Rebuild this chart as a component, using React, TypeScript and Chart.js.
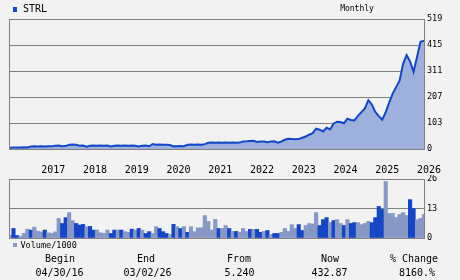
import React, { useEffect, useRef } from "react";
import { Chart, registerables } from "chart.js";

Chart.register(...registerables);

const ticker = "STRL";
const period = "Monthly";
const volumeLegend = "Volume/1000";

// month index 0 = Apr 2016 ... 119 = Mar 2026
const yearLabels = ["2017", "2018", "2019", "2020", "2021", "2022", "2023", "2024", "2025", "2026"];
const yearTickIndex = [9, 21, 33, 45, 57, 69, 81, 93, 105, 117];
const priceTicks = [0, 103, 207, 311, 415, 519];
const volumeTicks = [0, 13, 26];

const prices = [
  5.24, 6, 6.2, 6, 6.5, 6.4, 10, 10.5, 10, 10.5,
  10, 10.8, 10.5, 13, 13.5, 11, 11.5, 17, 17.5, 17,
  13, 13.5, 9.5, 13, 13.5, 13, 13.8, 13, 13.5, 10,
  13, 13.5, 13, 13.8, 13, 13.5, 13, 10, 13, 13.5,
  11, 20, 17, 17.5, 17, 17, 16, 10.5, 11, 11.5,
  11, 17, 17.5, 17, 17.5, 17, 19.5, 25, 25.5, 25,
  25.5, 25, 25.5, 25, 25.5, 25, 25.5, 30, 30.5, 32,
  32.5, 28, 30, 30, 27, 30, 30.5, 25.5, 30, 37,
  41, 40, 39, 39.5, 45, 50, 57, 63, 81, 77,
  70, 85, 78, 101, 109, 108, 103, 121, 116, 114,
  132, 147, 162, 195, 178, 148, 131, 117, 147, 185,
  221, 247, 274, 340, 375, 350, 308, 367, 428, 432.87,
];

const volumes = [
  1.1, 4.2, 1.1, 0.8, 2, 3.9, 3.5, 4.8, 3, 2.7,
  3.5, 2.3, 2, 2.7, 8.6, 6.4, 9, 11.2, 7.7, 6.4,
  5.7, 6, 5, 5.1, 3.5, 3.5, 2.3, 2, 3.5, 2,
  3.5, 3.5, 3.5, 2.8, 2.5, 3.9, 3.5, 4.2, 3.5, 2,
  2.8, 2, 5, 4.2, 2.8, 2, 1.5, 6, 5, 4.2,
  5, 2.5, 5, 2.8, 4.5, 4.5, 9.9, 7.3, 3.5, 8.2,
  4.2, 4.2, 5.5, 4.2, 2.9, 2.9, 2.5, 4.2, 2.9, 3.8,
  3.8, 3.8, 2.5, 2.9, 3.3, 1.6, 2, 2, 2.5, 4.2,
  2.9, 5.9, 4.2, 5.9, 3.3, 5.5, 6.4, 6.2, 11.2, 5.5,
  8.1, 9, 6.8, 7.7, 8.1, 6.4, 5.5, 8.1, 6.4, 6.8,
  6.8, 5.9, 6.4, 7.3, 6.8, 9, 13.9, 12.6, 24.9, 10.8,
  10.8, 9, 10.4, 11.2, 9.9, 16.9, 13, 8.1, 8.7, 10.4,
];

// 1 = down month (dark bar), 0 = up month (light bar)
const volumeDown = [
  0, 1, 1, 0, 0, 0, 1, 0, 0, 0,
  1, 0, 0, 0, 0, 1, 1, 0, 0, 1,
  1, 1, 0, 1, 1, 0, 0, 0, 0, 1,
  1, 0, 1, 0, 0, 1, 0, 1, 0, 1,
  1, 0, 0, 1, 1, 1, 0, 1, 0, 1,
  0, 1, 0, 0, 0, 0, 0, 0, 0, 0,
  1, 0, 0, 1, 0, 1, 0, 0, 0, 1,
  0, 1, 1, 0, 1, 0, 1, 1, 0, 0,
  0, 0, 0, 1, 1, 0, 0, 0, 0, 1,
  1, 1, 0, 1, 0, 0, 1, 0, 1, 1,
  0, 0, 0, 0, 1, 1, 1, 1, 0, 0,
  0, 0, 0, 0, 0, 1, 1, 0, 0, 0,
];

const summaryLabels = ["Begin", "End", "From", "Now", "% Change"];
const summaryValues = ["04/30/16", "03/02/26", "5.240", "432.87", "8160.%"];
const summaryLabelX = [60, 146, 239, 330, 414];
const summaryValueX = [59.5, 147.5, 239.5, 329.5, 417];

const DARK = "#1446c8";
const FILL = "#9eb0dc";
const LIGHT_BAR = "#8798c4";
const GRID = "#808080";
const BG = "#f2f2f2";
const MONO = '"DejaVu Sans Mono", monospace';

const leftBorder = {
  id: "leftBorder",
  afterDraw(chart: any) {
    const { ctx, chartArea: a } = chart;
    ctx.save();
    ctx.strokeStyle = GRID;
    ctx.lineWidth = 1;
    ctx.beginPath();
    const x = Math.round(a.left) - 0.5;
    ctx.moveTo(x, Math.round(a.top));
    ctx.lineTo(x, Math.round(a.bottom) + 1);
    ctx.stroke();
    ctx.restore();
  },
};

function rightAxis(ticks: number[], max: number) {
  return {
    type: "linear" as const,
    position: "right" as const,
    min: 0,
    max,
    afterBuildTicks: (s: any) => {
      s.ticks = ticks.map((v) => ({ value: v }));
    },
    afterFit: (s: any) => {
      s.width = 36;
      s.paddingTop = 0;
      s.paddingBottom = 0;
    },
    grid: { color: GRID, lineWidth: 1, drawTicks: false },
    border: { display: true, color: GRID, width: 1 },
    ticks: {
      color: "#000",
      padding: 3,
      font: { family: MONO, size: 8.5 },
      callback: (v: any) => String(v),
    },
  };
}

export default function App() {
  const priceRef = useRef<HTMLCanvasElement>(null);
  const volRef = useRef<HTMLCanvasElement>(null);

  useEffect(() => {
    const priceChart = new Chart(priceRef.current!, {
      type: "line",
      data: {
        datasets: [
          {
            data: prices.map((v, i) => ({ x: i, y: v })),
            borderColor: DARK,
            borderWidth: 2,
            backgroundColor: FILL,
            fill: "origin",
            pointRadius: 0,
            tension: 0,
          },
        ],
      },
      options: {
        responsive: false,
        animation: false,
        devicePixelRatio: 1,
        layout: { padding: { left: 10, top: 19, right: 0, bottom: 0 } },
        plugins: { legend: { display: false }, tooltip: { enabled: false } },
        scales: {
          x: {
            type: "linear",
            min: 0,
            max: prices.length - 1,
            afterBuildTicks: (s: any) => {
              s.ticks = yearTickIndex.map((v) => ({ value: v }));
            },
            afterFit: (s: any) => {
              s.height = 26;
              s.paddingLeft = 0;
              s.paddingRight = 0;
            },
            grid: { display: false, drawTicks: false },
            border: { display: true, color: GRID, width: 1 },
            ticks: {
              color: "#000",
              align: "start",
              padding: 15,
              maxRotation: 0,
              autoSkip: false,
              font: { family: MONO, size: 10 },
              callback: (_v: any, idx: number) => yearLabels[idx],
            },
          },
          y: rightAxis(priceTicks, 519),
        },
      },
      plugins: [leftBorder],
    });

    const volChart = new Chart(volRef.current!, {
      type: "bar",
      data: {
        labels: volumes.map((_, i) => String(i)),
        datasets: [
          {
            data: volumes,
            backgroundColor: volumeDown.map((d) => (d ? DARK : LIGHT_BAR)),
            borderWidth: 0,
            barPercentage: 1,
            categoryPercentage: 1,
          },
        ],
      },
      options: {
        responsive: false,
        animation: false,
        devicePixelRatio: 1,
        layout: { padding: { left: 10, top: 4, right: 0, bottom: 42 } },
        plugins: { legend: { display: false }, tooltip: { enabled: false } },
        scales: {
          x: {
            type: "category",
            offset: false,
            display: false,
            grid: { offset: false },
          },
          y: rightAxis(volumeTicks, 26),
        },
      },
      plugins: [leftBorder],
    });

    return () => {
      priceChart.destroy();
      volChart.destroy();
    };
  }, []);

  const text = (s: string, cx: number, cy: number, size: number, key?: any) => (
    <div
      key={key}
      style={{
        position: "absolute",
        left: cx - 50,
        width: 100,
        top: cy - 7,
        height: 14,
        lineHeight: "14px",
        textAlign: "center",
        fontFamily: MONO,
        fontSize: size,
        color: "#000",
        whiteSpace: "nowrap",
      }}
    >
      {s}
    </div>
  );

  return (
    <div
      style={{
        position: "fixed",
        left: 0,
        top: 0,
        width: 460,
        height: 280,
        background: BG,
        overflow: "hidden",
      }}
    >
      <canvas ref={priceRef} width={460} height={175} style={{ position: "absolute", left: 0, top: 0, width: 460, height: 175 }} />
      <canvas ref={volRef} width={460} height={105} style={{ position: "absolute", left: 0, top: 175, width: 460, height: 105 }} />

      <div style={{ position: "absolute", left: 13, top: 7, width: 4, height: 5, background: DARK }} />
      <div style={{ position: "absolute", left: 23, top: 2, lineHeight: "14px", fontFamily: MONO, fontSize: 10, color: "#000" }}>{ticker}</div>
      {text(period, 357, 9, 8)}

      <div style={{ position: "absolute", left: 13, top: 243, width: 4, height: 4, background: LIGHT_BAR }} />
      <div style={{ position: "absolute", left: 20.5, top: 238, lineHeight: "14px", fontFamily: MONO, fontSize: 8.5, color: "#000" }}>{volumeLegend}</div>

      {summaryLabels.map((s, i) => text(s, summaryLabelX[i], 259, 10, "l" + i))}
      {summaryValues.map((s, i) => text(s, summaryValueX[i], 272.5, 10, "v" + i))}
    </div>
  );
}
